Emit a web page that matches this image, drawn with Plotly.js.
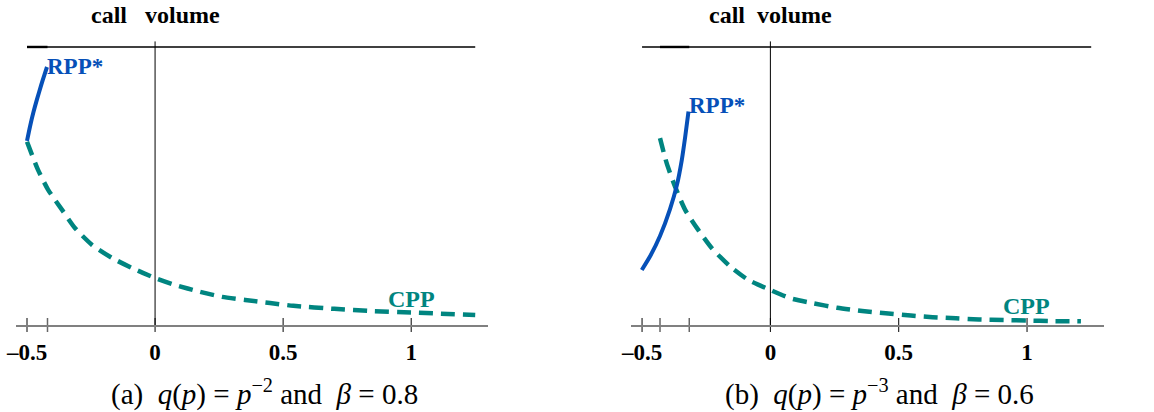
<!DOCTYPE html>
<html><head><meta charset="utf-8">
<script src="https://cdn.plot.ly/plotly-3.0.1.min.js"></script>
<style>html,body{margin:0;padding:0;background:#fff}</style>
</head><body><div id="chart" style="width:1154px;height:412px"></div>
<script>
// ---- data (panel a: q(p)=p^-2, beta=0.8) ----
const aRppX = [-0.5, -0.488, -0.475, -0.46, -0.445, -0.432, -0.422];
const aRppY = [0.662, 0.715, 0.765, 0.815, 0.862, 0.9, 0.928];
const aCppX = [-0.5, -0.457, -0.418, -0.363, -0.313, -0.246, -0.168, -0.09, 0, 0.078, 0.176, 0.262, 0.352, 0.449, 0.54, 0.7, 0.85, 1.0, 1.25];
const aCppY = [0.659, 0.558, 0.487, 0.414, 0.349, 0.288, 0.241, 0.205, 0.169, 0.144, 0.119, 0.101, 0.090, 0.079, 0.069, 0.058, 0.050, 0.045, 0.036];
const aExtraTicks = [-0.42];
// ---- data (panel b: q(p)=p^-3, beta=0.6) ----
const bRppX = [-0.501, -0.467, -0.43, -0.391, -0.364, -0.345, -0.332, -0.319];
const bRppY = [0.198, 0.250, 0.320, 0.417, 0.504, 0.594, 0.676, 0.768];
const bCppX = [-0.43, -0.404, -0.371, -0.332, -0.281, -0.228, -0.156, -0.086, 0, 0.078, 0.168, 0.26, 0.358, 0.449, 0.547, 0.632, 0.723, 0.813, 0.91, 1.0, 1.094, 1.21];
const bCppY = [0.672, 0.582, 0.497, 0.414, 0.342, 0.276, 0.21, 0.162, 0.126, 0.096, 0.078, 0.062, 0.050, 0.042, 0.034, 0.028, 0.024, 0.020, 0.018, 0.016, 0.014, 0.013];
const bExtraTicks = [-0.43, -0.316];
// ---- shared ----
const tickVals = [-0.5, 0, 0.5, 1];
const tickText = ['\u20130.5', '0', '0.5', '1'];
const topLineX = [-0.5, 1.25];
const topLineY = [1, 1];
const aTopThickX = [-0.5, -0.42];
const bTopThickX = [-0.43, -0.316];
const zeroLineX = [0, 0];
const zeroLineY = [0, 1.02];

const BLUE = '#0650b8', TEAL = '#008580';
const serif = 'Liberation Serif';

function panel(xa, ya, rx, ry, cx, cy, extra, thickX) {
  return [
    {x: topLineX, y: topLineY, xaxis: xa, yaxis: ya, mode: 'lines', line: {color: '#000', width: 1.6}, hoverinfo: 'skip'},
    {x: thickX, y: [1, 1], xaxis: xa, yaxis: ya, mode: 'lines', line: {color: '#000', width: 2.4}, hoverinfo: 'skip'},
    {x: zeroLineX, y: zeroLineY, xaxis: xa, yaxis: ya, mode: 'lines', line: {color: '#000', width: 1}, hoverinfo: 'skip'},
    {x: tickVals, y: tickVals.map(() => 0), xaxis: xa, yaxis: ya, mode: 'markers', cliponaxis: false,
     marker: {symbol: 'line-ns', size: 10, line: {color: '#000', width: 1}}, hoverinfo: 'skip'},
    {x: extra, y: extra.map(() => 0), xaxis: xa, yaxis: ya, mode: 'markers', cliponaxis: false,
     marker: {symbol: 'line-ns', size: 10, line: {color: '#666', width: 1.5}}, hoverinfo: 'skip'},
    {x: cx, y: cy, xaxis: xa, yaxis: ya, mode: 'lines', line: {color: TEAL, width: 4.5, dash: '14px,8px', shape: 'spline', smoothing: 0.6}},
    {x: rx, y: ry, xaxis: xa, yaxis: ya, mode: 'lines', line: {color: BLUE, width: 4, shape: 'spline', smoothing: 0.6}}
  ];
}

const data = [].concat(
  panel('x', 'y', aRppX, aRppY, aCppX, aCppY, aExtraTicks, aTopThickX),
  panel('x2', 'y2', bRppX, bRppY, bCppX, bCppY, bExtraTicks, bTopThickX)
);

const xax = (dom) => ({
  domain: dom, range: [-0.543, 1.30], showgrid: false, zeroline: false,
  showline: true, linecolor: '#808080', linewidth: 2,
  tickvals: tickVals, ticktext: tickText, ticks: 'outside', ticklen: 5, tickcolor: 'rgba(0,0,0,0)',
  tickfont: {family: serif, size: 23, color: '#000', weight: 'bold'}, fixedrange: true
});
const yax = (anchor) => ({
  domain: [0.2112, 1], range: [0, 1.169], showgrid: false, zeroline: false, showline: false,
  showticklabels: false, ticks: '', anchor: anchor, fixedrange: true
});

const lab = (xr, yr, x, y, text, color, size, xanchor) => ({
  xref: xr, yref: yr, x: x, y: y, text: text, showarrow: false, xanchor: xanchor || 'center', yanchor: 'middle',
  font: {family: serif, size: size, color: color, weight: 'bold'}
});

const S = '\u00a0';
const layout = {
  width: 1154, height: 412, margin: {l: 0, r: 0, t: 0, b: 0},
  paper_bgcolor: '#fff', plot_bgcolor: '#fff', showlegend: false,
  xaxis: xax([0.01386, 0.4229]), yaxis: yax('x'),
  xaxis2: Object.assign(xax([0.5468, 0.9567]), {anchor: 'y2'}), yaxis2: yax('x2'),
  annotations: [
    lab('x', 'y', 0, 1.115, 'call' + S + S + S + 'volume', '#000', 24),
    lab('x2', 'y2', 0, 1.115, 'call' + S + S + 'volume', '#000', 24),
    lab('x', 'y', -0.43, 0.93, 'RPP*', BLUE, 23, 'left'),
    lab('x2', 'y2', -0.324, 0.79, 'RPP*', BLUE, 23, 'left'),
    lab('x', 'y', 1.003, 0.092, 'CPP', TEAL, 24),
    lab('x2', 'y2', 0.998, 0.068, 'CPP', TEAL, 24),
    lab('x', 'y', 1.44, 0.008, 'm', '#000', 26),
    lab('x2', 'y2', 1.42, 0.008, 'm', '#000', 26),
    {xref: 'paper', yref: 'paper', x: 0.229, y: 0.047, showarrow: false, xanchor: 'center', yanchor: 'middle',
     text: '(a)' + S + S + '<i>q</i>(<i>p</i>)' + S + '=' + S + '<i>p</i><sup>\u22122</sup>' + S + 'and' + S + S + '<i>\u03b2</i>' + S + '=' + S + '0.8',
     font: {family: serif, size: 29, color: '#000'}},
    {xref: 'paper', yref: 'paper', x: 0.762, y: 0.047, showarrow: false, xanchor: 'center', yanchor: 'middle',
     text: '(b)' + S + S + '<i>q</i>(<i>p</i>)' + S + '=' + S + '<i>p</i><sup>\u22123</sup>' + S + 'and' + S + S + '<i>\u03b2</i>' + S + '=' + S + '0.6',
     font: {family: serif, size: 29, color: '#000'}}
  ]
};

Plotly.newPlot('chart', data, layout, {displayModeBar: false, staticPlot: true});
</script></body></html>
